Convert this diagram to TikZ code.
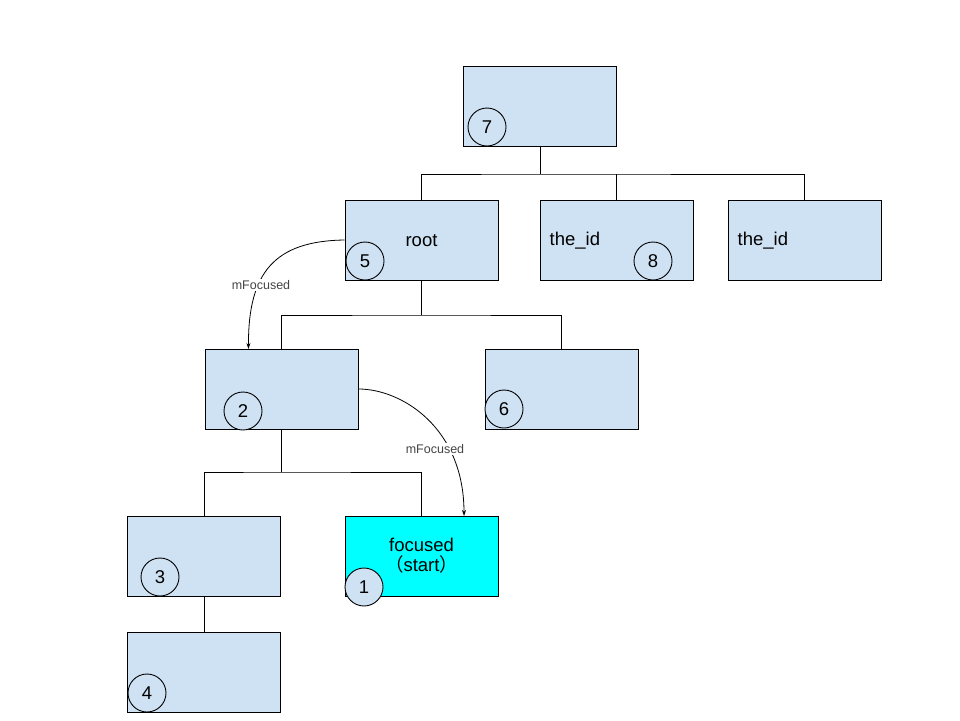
\documentclass[tikz,border=0pt]{standalone}
\usepackage{fontspec}
\setmainfont{Liberation Sans}
\newfontfamily\cjk{Noto Sans CJK SC}
\usetikzlibrary{arrows.meta}
\definecolor{boxblue}{HTML}{CFE2F3}
\definecolor{focuscyan}{HTML}{00FFFF}
\definecolor{labgray}{HTML}{444444}
\tikzset{
  box/.style={draw=black, line width=0.9pt, fill=boxblue, minimum width=153pt, minimum height=80pt, inner sep=0pt, font=\fontsize{18.5}{21}\selectfont, align=center},
  focbox/.style={box, fill=focuscyan},
  num/.style={draw=black, line width=0.9pt, fill=boxblue, circle, minimum size=38pt, inner sep=0pt, font=\fontsize{18.5}{21}\selectfont},
  txt/.style={inner sep=0pt, font=\fontsize{18.5}{21}\selectfont},
  tree/.style={draw=black, line width=0.9pt},
  focarrow/.style={draw=black, line width=0.8pt, -{Stealth[length=6pt,width=4pt]}},
  lab/.style={fill=white, inner sep=1.5pt, text=labgray, font=\fontsize{12.5}{14}\selectfont}
}
\begin{document}
\begin{tikzpicture}[x=1pt,y=-1pt]
\useasboundingbox (0,0) rectangle (960,720);
\fill[white] (0,0) rectangle (960,720);
% boxes
\node[box] (b7) at (540,106) {};
\node[box] (root) at (421.5,240) {};
\node[box] (id1) at (616.5,240) {};
\node[box] (id2) at (804.5,240) {};
\node[box] (n2) at (281.5,389) {};
\node[box] (n6) at (561.5,389) {};
\node[box] (n3) at (204,556) {};
\node[focbox] (foc) at (421.5,556) {focused\\[-1pt]{\cjk （}start{\cjk ）}};
\node[box] (n4) at (204,672) {};
% texts
\node[txt] (troot) at (421.5,241) {root};
\node[txt, anchor=west] (tid1) at (549.5,241) {the\_id};
\node[txt, anchor=west] (tid2) at (737.5,241) {the\_id};
% tree connectors
\coordinate (j1) at (540,174);
\coordinate (j2) at (421.5,315);
\coordinate (j3) at (281.5,472);
\draw[tree] (b7.south) -- (j1);
\draw[tree] (root.north) |- (j1) -| (id2.north);
\draw[tree] (id1.north) -- (id1.north |- j1);
\draw[tree] (root.south) -- (j2);
\draw[tree] (n2.north) |- (j2) -| (n6.north);
\draw[tree] (n2.south) -- (j3);
\draw[tree] (n3.north) |- (j3) -| (foc.north);
\draw[tree] (n3.south) -- (n4.north);
% number circles
\node[num] (c7) at (487,127) {7};
\node[num] (c5) at (365,261) {5};
\node[num] (c8) at (653,261) {8};
\node[num] (c2) at (243,411) {2};
\node[num] (c6) at (504,409) {6};
\node[num] (c3) at (160,577) {3};
\node[num] (c1) at (364,587) {1};
\node[num] (c4) at (147,693) {4};
% focus arrows
\coordinate (a1end) at (248.5,349);
\coordinate (a2end) at (464,516);
\draw[focarrow] (root.west) .. controls (275,241) and (248,272) .. (a1end);
\draw[focarrow] (n2.east) .. controls (402,389) and (464,428) .. (a2end);
\node[lab] (l1) at (261,285) {mFocused};
\node[lab] (l2) at (435,449) {mFocused};
\end{tikzpicture}
\end{document}
